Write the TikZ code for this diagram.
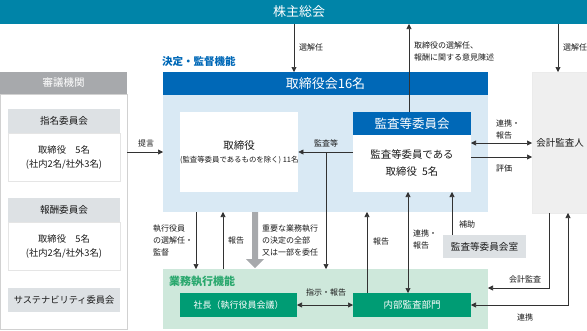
\documentclass[tikz,border=0pt]{standalone}
\usepackage{fontspec}
\setmainfont{Noto Sans CJK JP}
\usetikzlibrary{arrows.meta}
\definecolor{cteal}{RGB}{0,132,168}
\definecolor{cblue}{RGB}{0,104,183}
\definecolor{clblue}{RGB}{217,233,244}
\definecolor{cgrayh}{RGB}{167,169,172}
\definecolor{clgray}{RGB}{221,225,228}
\definecolor{cbox}{RGB}{239,239,239}
\definecolor{clgreen}{RGB}{206,232,219}
\definecolor{cdgreen}{RGB}{0,156,116}
\definecolor{cgtext}{RGB}{42,168,110}
\definecolor{cline}{RGB}{50,50,50}
\begin{document}
\begin{tikzpicture}[x=1pt,y=-1pt,
  every node/.style={inner sep=0pt, outer sep=0pt},
  blk/.style={anchor=north west, align=center},
  ln/.style={draw=cline, line width=0.6pt},
  at1/.style={ln, -{Triangle[length=5pt,width=5pt]}},
  at2/.style={ln, {Triangle[length=5pt,width=5pt]}-{Triangle[length=5pt,width=5pt]}},
  lbl/.style={font=\fontsize{8}{12}\selectfont, text=black!90, align=left},
  body/.style={font=\fontsize{9.3}{14}\selectfont, text=black!90},
]
\useasboundingbox (0,0) rectangle (587,330);
% top bar
\node[blk, fill=cteal, minimum width=587pt, minimum height=24pt] (soukai) at (0,0) {};
\node[text=white, font=\fontsize{13}{15}\selectfont] (soukaitxt) at (299,12) {株主総会};

% left panel
\node[blk, fill=white, draw=black!18, line width=0.6pt, minimum width=127pt, minimum height=235pt] (lpanel) at (0,94) {};
\node[blk, fill=cgrayh, minimum width=127pt, minimum height=22pt, text=white, font=\fontsize{10.5}{12}\selectfont] (shingi) at (0,72) {審議機関};
\node[blk, fill=clgray, minimum width=112pt, minimum height=24pt, body, font=\fontsize{9.6}{12}\selectfont] (shimei) at (8,109) {指名委員会};
\node[blk, fill=white, draw=black!10, minimum width=112pt, minimum height=48pt, body] (shimeib) at (8,133) {取締役\quad 5名\\(社内2名/社外3名)};
\node[blk, fill=clgray, minimum width=112pt, minimum height=24pt, body, font=\fontsize{9.6}{12}\selectfont] (houshu) at (8,198) {報酬委員会};
\node[blk, fill=white, draw=black!10, minimum width=112pt, minimum height=48pt, body] (houshub) at (8,222) {取締役\quad 5名\\(社内2名/社外3名)};
\node[blk, fill=clgray, minimum width=112pt, minimum height=24pt, body, font=\fontsize{9.2}{12}\selectfont] (sustain) at (8,288) {サステナビリティ委員会};

% board area
\node[anchor=west, text=cblue, font=\bfseries\fontsize{10.5}{12}\selectfont] (kettei) at (162,62) {決定・監督機能};
\node[blk, fill=clblue, minimum width=325pt, minimum height=117pt] (board) at (163,95) {};
\node[blk, fill=cblue, minimum width=325pt, minimum height=23pt, text=white, font=\fontsize{13}{15}\selectfont] (torikai) at (163,72) {取締役会16名};
\node[blk, fill=white, minimum width=117pt, minimum height=80pt, body] (tori) at (180,112) {{\fontsize{10.5}{14}\selectfont 取締役}\\[-1pt]{\fontsize{7.4}{10}\selectfont (監査等委員であるものを除く) 11名}};
\node[blk, fill=cblue, minimum width=118pt, minimum height=23pt, text=white, font=\fontsize{12.5}{14}\selectfont] (kansah) at (353,112) {監査等委員会};
\node[blk, fill=white, minimum width=118pt, minimum height=57pt, font=\fontsize{10.4}{17}\selectfont, text=black!90] (kansab) at (353,135) {監査等委員である\\取締役\enspace 5名};

% auditor
\node[blk, fill=cbox, draw=black!8, minimum width=56pt, minimum height=141pt] (kaikei) at (532,72) {};
\node[font=\fontsize{9.5}{12}\selectfont, text=black!90] (kaikeitxt) at (560,143) {会計監査人};

% audit committee office
\node[blk, fill=clgray, minimum width=83pt, minimum height=23pt, font=\fontsize{9.6}{12}\selectfont, text=black!90] (shitsu) at (443,235) {監査等委員会室};

% execution area
\node[blk, fill=clgreen, minimum width=325pt, minimum height=60pt] (gyomu) at (163,269) {};
\node[anchor=west, text=cgtext, font=\bfseries\fontsize{11}{12}\selectfont] (gyomutxt) at (169,281) {業務執行機能};
\node[blk, fill=cdgreen, minimum width=117pt, minimum height=24pt, text=white, font=\fontsize{9}{12}\selectfont] (shacho) at (180,293) {社長（執行役員会議）};
\node[blk, fill=cdgreen, minimum width=118pt, minimum height=24pt, text=white, font=\fontsize{9.5}{12}\selectfont] (naibu) at (353,293) {内部監査部門};

% connectors
\draw[at1] (soukai.south -| 294,0) -- (torikai.north -| 294,0);
\node[lbl, anchor=west] (l1) at (299,47) {選解任};
\draw[at1] (kansah.north -| 409,0) -- (soukai.south -| 409,0);
\node[lbl, anchor=west] (l2) at (414,51) {取締役の選解任、\\報酬に関する意見陳述};
\draw[at1] (soukai.south -| 558,0) -- (kaikei.north -| 558,0);
\node[lbl, anchor=west] (l3) at (563,47) {選解任};

\draw[at1] (lpanel.east |- 0,152) -- (board.west |- 0,152);
\node[lbl] (l4) at (146,143) {提言};

\draw[at1] (kansab.west |- 0,152) -- (tori.east |- 0,152);
\coordinate (br) at (326,152);
\draw[at1] (br) -- (gyomu.north -| br);
\node[lbl] (l5) at (326,143) {監査等};

\draw[at2] (kansab.east |- 0,143) -- (kaikei.west |- 0,143);
\node[lbl, anchor=west] (l6) at (496,129) {連携・\\報告};
\draw[at1] (kansab.east |- 0,157) -- (kaikei.west |- 0,157);
\node[lbl, anchor=west] (l7) at (496,168) {評価};

\draw[at1] (board.south -| 196,0) -- (gyomu.north -| 196,0);
\node[lbl, anchor=west] (l8) at (153,240) {執行役員\\の選解任・\\監督};
\draw[at1] (gyomu.north -| 223,0) -- (board.south -| 223,0);
\node[lbl] (l9) at (236,240) {報告};

\fill[cgrayh] (252,212) -- (258,212) -- (258,259) -- (264,259) -- (255,268) -- (246,259) -- (252,259) -- cycle;
\node[lbl, anchor=west] (l10) at (262,240) {重要な業務執行\\の決定の全部\\又は一部を委任};

\draw[at1] (naibu.north -| 367,0) -- (board.south -| 367,0);
\node[lbl] (l11) at (381,241) {報告};
\draw[at2] (kansab.south -| 408,0) -- (naibu.north -| 408,0);
\node[lbl, anchor=west] (l12) at (413,239) {連携・\\報告};
\draw[at1] (shitsu.north -| 452,0) -- (kansab.south -| 452,0);
\node[lbl] (l13) at (467,224) {補助};

\draw[at1] (kaikei.south -| 549,0) -- (549,288) -- (gyomu.east |- 0,288);
\node[lbl] (l14) at (525,279) {会計監査};
\draw[at2] (naibu.east |- 0,305) -- (568,305) -- (kaikei.south -| 568,0);
\node[lbl] (l15) at (525,317) {連携};

\draw[at2] (shacho.east |- 0,305) -- (naibu.west |- 0,305);
\node[lbl] (l16) at (326,292) {指示・報告};
\end{tikzpicture}
\end{document}
